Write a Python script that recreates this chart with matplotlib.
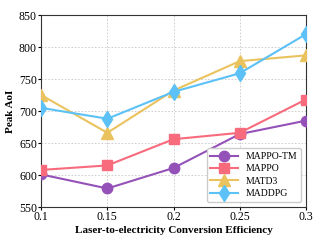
import matplotlib
matplotlib.use("Agg")
import matplotlib.pyplot as plt

x = [0.1, 0.15, 0.2, 0.25, 0.3]
xticklabels = ["0.1", "0.15", "0.2", "0.25", "0.3"]
mappo_tm = [601, 579, 611, 664, 685]
mappo = [608, 615, 656, 666, 718]
matd3 = [725, 666, 732, 778, 787]
maddpg = [705, 688, 730, 759, 820]

plt.rcParams['font.family'] = ['Liberation Serif', 'DejaVu Serif']
fig = plt.figure(figsize=(3.24, 2.43), dpi=100)
ax = fig.add_axes([0.127, 0.148, 0.817, 0.79])

ax.plot(x, mappo_tm, color='#9452b8', marker='o', markersize=7.5, lw=1.5, label='MAPPO-TM', zorder=3)
ax.plot(x, mappo, color='#f76b7c', marker='s', markersize=7.5, lw=1.5, label='MAPPO', zorder=3)
ax.plot(x, matd3, color='#eac35e', marker='^', markersize=8.5, lw=1.5, label='MATD3', zorder=3)
ax.plot(x, maddpg, color='#5cc1f7', marker='d', markersize=8.5, lw=1.5, label='MADDPG', zorder=3)

ax.set_xlim(0.1, 0.3)
ax.set_ylim(550, 850)
ax.set_xticks(x)
ax.set_xticklabels(xticklabels)
ax.set_yticks([550, 600, 650, 700, 750, 800, 850])
ax.tick_params(labelsize=8.5, length=2, pad=1)
ax.grid(True, ls=(0, (2, 2)), color='#c8c8c8', lw=0.6)
ax.set_xlabel('Laser-to-electricity Conversion Efficiency', fontsize=8, fontweight='bold', labelpad=2)
ax.set_ylabel('Peak AoI', fontsize=8, fontweight='bold', labelpad=3)
for s in ax.spines.values():
    s.set_color('#333333')
    s.set_linewidth(0.8)
ax.legend(loc='lower right', fontsize=7, handlelength=2.8, borderpad=0.4, labelspacing=0.35, framealpha=1)

fig.savefig('out.png', dpi=100)
